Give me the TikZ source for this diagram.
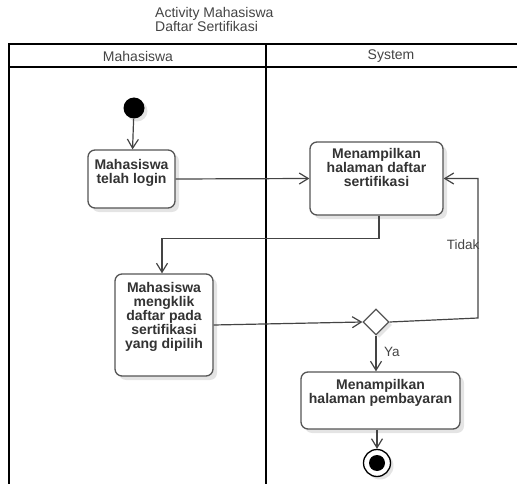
\documentclass[tikz,border=0pt]{standalone}
\usepackage{fontspec}
\setmainfont{Liberation Sans}
\usetikzlibrary{arrows.meta,shapes.geometric,shadows}
\definecolor{boxc}{HTML}{555555}
\definecolor{textc}{HTML}{333333}
\definecolor{linec}{HTML}{444444}
\definecolor{labc}{HTML}{444444}
\definecolor{shadowc}{HTML}{E4E4E4}
\begin{document}
\begin{tikzpicture}[x=1pt,y=-1pt,
  box/.style={draw=boxc, line width=1.3pt, rounded corners=7pt, fill=white, inner sep=0pt,
    drop shadow={shadow xshift=4pt, shadow yshift=-4pt, fill=shadowc, opacity=1}},
  txt/.style={text=textc, font=\fontsize{14}{14}\selectfont\bfseries, align=center, inner sep=0pt, anchor=north},
  lab/.style={text=labc, font=\fontsize{13.5}{14}\selectfont, inner sep=0pt},
  conn/.style={draw=linec, line width=1.2pt, -{Straight Barb[length=9pt,width=11pt,line width=1.2pt]}},
  frame/.style={draw=black, line width=2pt}
]
\useasboundingbox (0,0) rectangle (517,484);
% title
\node[text=labc, font=\fontsize{14}{14}\selectfont, align=left, inner sep=0pt, anchor=north west] (title) at (155,7.5) {Activity Mahasiswa\\Daftar Sertifikasi};
% swimlane frame
\draw[frame] (9,492) -- (9,44) -- (525,44);
\draw[frame] (9,67) -- (525,67);
\draw[frame] (266,44) -- (266,492);
\node[lab, font=\fontsize{14}{14}\selectfont] (lane1) at (138,56) {Mahasiswa};
\node[lab, font=\fontsize{14}{14}\selectfont] (lane2) at (391,56) {System};
% nodes
\node[circle, fill=black, minimum size=21pt, inner sep=0pt,
  drop shadow={shadow xshift=3pt, shadow yshift=-3pt, fill=shadowc, opacity=1}] (init) at (134,108) {};
\node[box, minimum width=87pt, minimum height=58pt] (A) at (131.5,179) {};
\node[txt] (At) at (131.5,159.5) {Mahasiswa\\telah login};
\node[box, minimum width=133pt, minimum height=73pt] (B) at (376.5,178.5) {};
\node[txt] (Bt) at (376.5,148.5) {Menampilkan\\halaman daftar\\sertifikasi};
\node[box, minimum width=98pt, minimum height=102pt] (C) at (164,325) {};
\node[txt] (Ct) at (164,282) {Mahasiswa\\mengklik\\daftar pada\\sertifikasi\\yang dipilih};
\node[diamond, draw=boxc, fill=white, line width=1.2pt, minimum width=26pt, minimum height=26pt, inner sep=0pt,
  drop shadow={shadow xshift=3pt, shadow yshift=-3pt, fill=shadowc, opacity=1}] (dec) at (376,322) {};
\node[box, minimum width=159pt, minimum height=57pt] (D) at (380.5,400.5) {};
\node[txt] (Dt) at (380.5,379.5) {Menampilkan\\halaman pembayaran};
\node[circle, draw=black, line width=1.3pt, fill=white, minimum size=27pt, inner sep=0pt,
  drop shadow={shadow xshift=3pt, shadow yshift=-3pt, fill=shadowc, opacity=1}] (fin) at (377,463) {};
\node[circle, fill=black, minimum size=16pt, inner sep=0pt] (finc) at (fin) {};
% connectors
\draw[conn] (init) -- (A);
\draw[conn] (A.east) -- (B.west);
\draw[conn] ([xshift=2.5pt]B.south) -- ++(0,23) -| ([xshift=-2pt]C.north);
\draw[conn] (C.east) -- (dec.west);
\coordinate (t1) at (478,318);
\draw[conn] (dec.east) -- (t1) |- (B.east);
\node[lab, anchor=east] (tidak) at (479.5,245) {Tidak};
\draw[conn] (dec.south) -- (dec.south |- D.north);
\node[lab, anchor=west] (ya) at (384,352) {Ya};
\draw[conn] (fin.north |- D.south) -- (fin.north);
\end{tikzpicture}
\end{document}
